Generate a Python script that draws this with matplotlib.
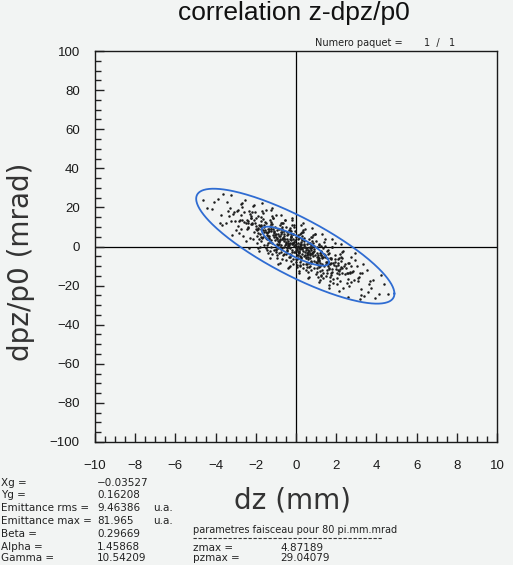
import numpy as np
import matplotlib
matplotlib.use("Agg")
import matplotlib.pyplot as plt
from matplotlib.ticker import MultipleLocator

W, H = 513, 565

# beam parameters printed under the plot
xg, yg = -0.03527, 0.16208
emit_rms, emit_max = 9.46386, 81.965
beta, alpha, gamma = 0.29669, 1.45868, 10.54209
zmax, pzmax = 4.87189, 29.04079

# particles (dz in mm, dpz/p0 in mrad)
dz_pts = [
    -0.22, 0.07, 0.18, -0.11, 0.02, 0.24, -0.17, 0.13, -0.04, 0.21, -0.25, 0.09, -0.08, 0.16, -0.19, 0.04, 0.11, -0.14, 0.23, -0.01,
    -0.19, 0.10, 0.21, -0.08, 0.05, 0.27, -0.14, 0.16, -0.01, 0.24, -0.22, 0.12, -0.05, 0.19, -0.16, 0.07, 0.14, -0.11, 0.26, 0.02,
    -0.24, 0.05, 0.16, -0.13, 0.00, 0.22, -0.19, 0.11, -0.06, 0.19, -0.27, 0.07, -0.10, 0.14, -0.21, 0.02, 0.09, -0.16, 0.21, -0.03,
    -0.21, 0.08, 0.19, -0.10, 0.03, 0.25, -0.16, 0.14,
    0.28, 0.57, 0.68, 0.39, 0.52, 0.74, 0.33, 0.63, 0.46, 0.71, 0.25, 0.59, 0.42, 0.66, 0.31, 0.54, 0.61, 0.36, 0.73, 0.49,
    0.31, 0.60, 0.71, 0.42, 0.55, 0.77, 0.36, 0.66, 0.49, 0.74, 0.28, 0.62, 0.45, 0.69, 0.34, 0.57, 0.64, 0.39, 0.76, 0.52,
    0.26, 0.55, 0.66, 0.37, 0.50, 0.72, 0.31, 0.61, 0.44, 0.69, 0.23, 0.57, 0.40, 0.64, 0.29, 0.52, 0.59, 0.34, 0.71, 0.47,
    0.29, 0.58, 0.69, 0.40,
    -0.72, -0.43, -0.32, -0.61, -0.48, -0.26, -0.67, -0.37, -0.54, -0.29, -0.75, -0.41, -0.58, -0.34, -0.69, -0.46, -0.39, -0.64, -0.27, -0.51,
    -0.69, -0.40, -0.29, -0.58, -0.45, -0.23, -0.64, -0.34, -0.51, -0.26, -0.72, -0.38, -0.55, -0.31, -0.66, -0.43, -0.36, -0.61, -0.24, -0.48,
    -0.74, -0.45, -0.34, -0.63, -0.50, -0.28, -0.69, -0.39, -0.56, -0.31, -0.77, -0.43, -0.60, -0.36, -0.71, -0.48, -0.41, -0.66, -0.29, -0.53,
    -0.71, -0.42, -0.31, -0.60,
    0.78, 1.07, 1.18, 0.89, 1.02, 1.24, 0.83, 1.13, 0.96, 1.21, 0.75, 1.09, 0.92, 1.16, 0.81, 1.04, 1.11, 0.86, 1.23, 0.99,
    0.81, 1.10, 1.21, 0.92, 1.05, 1.27, 0.86, 1.16, 0.99, 1.24, 0.78, 1.12, 0.95, 1.19, 0.84, 1.07, 1.14, 0.89, 1.26, 1.02,
    0.76, 1.05, 1.16, 0.87, 1.00, 1.22, 0.81, 1.11, 0.94, 1.19, 0.73, 1.07, 0.90, 1.14, 0.79, 1.02,
    -1.22, -0.93, -0.82, -1.11, -0.98, -0.76, -1.17, -0.87, -1.04, -0.79, -1.25, -0.91, -1.08, -0.84, -1.19, -0.96, -0.89, -1.14, -0.77, -1.01,
    -1.19, -0.90, -0.79, -1.08, -0.95, -0.73, -1.14, -0.84, -1.01, -0.76, -1.22, -0.88, -1.05, -0.81, -1.16, -0.93, -0.86, -1.11, -0.74, -0.98,
    -1.24, -0.95, -0.84, -1.13, -1.00, -0.78, -1.19, -0.89, -1.06, -0.81, -1.27, -0.93, -1.10, -0.86, -1.21, -0.98,
    1.28, 1.57, 1.68, 1.39, 1.52, 1.74, 1.33, 1.63, 1.46, 1.71, 1.25, 1.59, 1.42, 1.66, 1.31, 1.54, 1.61, 1.36, 1.73, 1.49,
    1.31, 1.60, 1.71, 1.42, 1.55, 1.77, 1.36, 1.66, 1.49, 1.74, 1.28, 1.62, 1.45, 1.69, 1.34, 1.57, 1.64, 1.39, 1.76, 1.52,
    1.26, 1.55, 1.66, 1.37, 1.50,
    -1.72, -1.43, -1.32, -1.61, -1.48, -1.26, -1.67, -1.37, -1.54, -1.29, -1.75, -1.41, -1.58, -1.34, -1.69, -1.46, -1.39, -1.64, -1.27, -1.51,
    -1.69, -1.40, -1.29, -1.58, -1.45, -1.23, -1.64, -1.34, -1.51, -1.26, -1.72, -1.38, -1.55, -1.31, -1.66, -1.43, -1.36, -1.61, -1.24, -1.48,
    -1.74, -1.45, -1.34, -1.63, -1.50,
    1.78, 2.07, 2.18, 1.89, 2.02, 2.24, 1.83, 2.13, 1.96, 2.21, 1.75, 2.09, 1.92, 2.16, 1.81, 2.04, 2.11, 1.86, 2.23, 1.99,
    1.81, 2.10, 2.21, 1.92, 2.05, 2.27, 1.86, 2.16, 1.99, 2.24, 1.78, 2.12, 1.95,
    -2.22, -1.93, -1.82, -2.11, -1.98, -1.76, -2.17, -1.87, -2.04, -1.79, -2.25, -1.91, -2.08, -1.84, -2.19, -1.96, -1.89, -2.14, -1.77, -2.01,
    -2.19, -1.90, -1.79, -2.08, -1.95, -1.73, -2.14, -1.84, -2.01, -1.76, -2.22, -1.88, -2.05,
    2.28, 2.57, 2.68, 2.39, 2.52, 2.74, 2.33, 2.63, 2.46, 2.71, 2.25, 2.59, 2.42, 2.66, 2.31, 2.54, 2.61, 2.36, 2.73, 2.49, 2.31, 2.60,
    -2.72, -2.43, -2.32, -2.61, -2.48, -2.26, -2.67, -2.37, -2.54, -2.29, -2.75, -2.41, -2.58, -2.34, -2.69, -2.46, -2.39, -2.64, -2.27, -2.51, -2.69, -2.40,
    2.78, 3.07, 3.18, 2.89, 3.02, 3.24, 2.83, 3.13, 2.96, 3.21, 2.75, 3.09, 2.92, 3.16,
    -3.22, -2.93, -2.82, -3.11, -2.98, -2.76, -3.17, -2.87, -3.04, -2.79, -3.25, -2.91, -3.08, -2.84,
    3.28, 3.57, 3.68, 3.39, 3.52, 3.74, 3.33, 3.63,
    -3.72, -3.43, -3.32, -3.61, -3.48, -3.26, -3.67, -3.37,
    3.82, 4.11, 4.23, 3.94,
    -4.18, -3.89, -3.78, -4.07,
    4.38, 4.56,
    -4.41, -4.62,
]
dp_pts = [
    1.5, -1.6, 1.4, -2.6, 4.9, -7.0, 2.0, -1.0, 7.8, -10.0, 4.7, -2.7, 11.2, -12.3, 1.9, -4.6, 5.7, -6.2, 0.7, -0.7,
    -1.6, 3.6, -1.5, 2.1, -6.5, 7.1, -8.8, 4.1, -1.7, -0.9, 13.7, -4.1, 3.2, -8.0, 6.5, -1.1, -13.7, 9.8, -6.1, 1.4,
    7.8, -0.5, -3.4, 3.8, -7.9, 0.5, 10.8, -5.8, 0.8, -4.9, 5.6, -10.7, 2.4, -2.2, 14.6, -6.3, 0.3, 6.6, -9.6, -2.9,
    -3.0, 1.6, 6.2, 0.1, -9.4, 2.4, 1.2, -2.7,
    -4.0, 1.2, -4.0, -0.3, -9.0, 4.7, -11.2, 1.7, -4.2, -3.4, 11.2, -6.5, 0.8, -10.4, 4.0, -3.5, -16.1, 7.4, -8.6, -1.0,
    5.4, -3.0, -5.9, 1.4, -10.3, -2.0, 8.4, -8.2, -1.6, -7.4, 3.2, -13.2, -0.1, -4.6, 12.2, -8.8, -2.2, 4.2, -12.0, -5.4,
    -5.5, -0.8, 3.8, -2.4, -11.8, 0.0, -1.2, -5.2, 9.0, -10.2, 1.4, -4.6, 2.8, -15.6, 7.2, -6.0, -2.0, -9.2, 1.8, -2.6,
    -1.0, -4.0, -1.0, -5.0,
    -0.6, 4.0, 8.6, 2.6, -7.0, 4.8, 3.6, -0.2, 13.8, -5.2, 6.4, 0.4, 7.8, -10.6, 12.2, -1.0, 3.0, -4.4, 6.6, 2.2,
    4.0, 0.8, 3.8, -0.2, 7.4, -4.6, 4.4, 1.4, 10.2, -7.6, 7.2, -0.2, 13.6, -9.8, 4.4, -2.2, 8.2, -3.8, 3.2, 1.8,
    0.8, 6.0, 1.0, 4.6, -4.0, 9.6, -6.4, 6.6, 0.8, 1.6, 16.2, -1.6, 5.6, -5.6, 9.0, 1.4, -11.2, 12.2, -3.6, 3.8,
    10.2, 2.0, -1.0, 6.2,
    2.9, -5.4, -8.3, -1.1, -12.8, -4.4, 5.9, -10.7, -4.1, -9.8, 0.7, -15.6, -2.5, -7.1, 9.7, -11.2, -4.6, 1.7, -14.5, -7.8,
    -3.4, -6.5, -3.5, -7.5, 0.0, -11.9, -2.9, -5.9, 2.9, -14.9, -0.2, -7.6, 6.3, -17.2, -3.0, -9.5, 0.8, -11.1, -4.2, -5.6,
    -7.9, -3.3, 1.3, -4.8, -14.3, -2.5, -3.7, -7.6, 6.5, -12.6, -1.0, -7.0, 0.4, -18.0, 4.8, -8.4,
    3.3, 8.5, 3.4, 7.0, -1.6, 12.0, -3.9, 9.0, 3.2, 4.0, 18.6, 0.8, 8.1, -3.1, 11.4, 3.8, -8.8, 14.7, -1.2, 6.3,
    1.9, 6.5, 11.1, 5.0, -4.5, 7.3, 6.1, 2.2, 16.3, -2.8, 8.8, 2.8, 10.2, -8.2, 14.6, 1.4, 5.4, -1.9, 9.1, 4.7,
    12.7, 4.4, 1.5, 8.7, -3.0, 5.4, 15.7, -0.9, 5.7, 0.0, 10.5, -5.8, 7.3, 2.7, 19.5, -1.4,
    -5.8, -9.0, -6.0, -10.0, -2.4, -14.4, -5.4, -8.4, 0.4, -17.4, -2.6, -10.0, 3.8, -19.6, -5.4, -12.0, -1.6, -13.6, -6.6, -8.0,
    -9.0, -3.8, -8.8, -5.2, -13.8, -0.2, -16.2, -3.2, -9.0, -8.2, 6.4, -11.4, -4.2, -15.4, -0.8, -8.4, -21.0, 2.4, -13.4, -6.0,
    0.4, -7.8, -10.8, -3.6, -15.2,
    15.2, 6.8, 4.0, 11.2, -0.6, 7.8, 18.2, 1.6, 8.2, 2.4, 13.0, -3.4, 9.8, 5.2, 22.0, 1.0, 7.6, 14.0, -2.2, 4.4,
    4.4, 9.0, 13.6, 7.4, -2.0, 9.8, 8.6, 4.6, 18.8, -0.4, 11.2, 5.2, 12.6, -5.8, 17.0, 3.8, 7.8, 0.6, 11.6, 7.2,
    8.8, 5.8, 8.8, 4.8, 12.2,
    -12.8, -8.2, -3.6, -9.7, -19.2, -7.4, -8.6, -12.5, 1.6, -17.5, -5.9, -11.9, -4.5, -22.9, -0.1, -13.3, -9.3, -16.6, -5.6, -10.0,
    -11.4, -6.2, -11.3, -7.7, -16.3, -2.7, -18.6, -5.7, -11.5, -10.7, 3.9, -13.9, -6.6,
    11.3, 8.2, 11.2, 7.2, 14.7, 2.8, 11.8, 8.8, 17.6, -0.2, 14.5, 7.1, 21.0, -2.5, 11.7, 5.2, 15.5, 3.6, 10.5, 9.1,
    17.6, 9.3, 6.4, 13.6, 1.9, 10.3, 20.6, 4.0, 10.6, 4.9, 15.4, -0.9, 12.2,
    -13.8, -8.6, -13.8, -10.2, -18.8, -5.2, -21.0, -8.2, -14.0, -13.2, 1.4, -16.4, -9.0, -20.2, -5.8, -13.4, -26.0, -2.4, -18.4, -10.8, -10.8, -13.8,
    9.2, 13.8, 18.4, 12.4, 2.8, 14.6, 13.4, 9.6, 23.6, 4.6, 16.2, 10.2, 17.6, -0.8, 22.0, 8.8, 12.8, 5.4, 16.4, 12.0, 20.0, 11.8,
    -13.2, -16.3, -13.3, -17.3, -9.8, -21.7, -12.7, -15.7, -6.9, -24.7, -10.0, -17.4, -3.5, -27.0,
    13.1, 18.3, 13.2, 16.8, 8.2, 21.8, 5.9, 18.8, 13.0, 13.8, 26.2, 10.6, 17.9, 6.7,
    -13.8, -23.3, -17.6, -25.5, -12.2, -21.4, -8.7, -19.0,
    16.2, 23.0, 15.8, 27.0, 12.2, 19.6, 10.9, 18.1,
    -16.9, -24.5, -14.7, -26.5,
    19.0, 24.3, 12.2, 22.8,
    -19.0, -24.1,
    19.5, 23.8,
]

bg = "#f2f4f3"
blue = "#2f6cd2"

fig = plt.figure(figsize=(W / 100, H / 100), dpi=100, facecolor=bg)
ax = fig.add_axes([95 / W, 1 - 442 / H, 402 / W, 391 / H], facecolor=bg)

ax.axvline(0, color="black", lw=0.9, zorder=1)
ax.axhline(0, color="black", lw=0.9, zorder=1)
ax.plot(dz_pts, dp_pts, ls="none", marker="o", ms=1.8, mew=0,
        color="#1c1c1c", zorder=2)

# rms and max emittance ellipses from the Twiss parameters
t = np.linspace(0, 2 * np.pi, 300)
for eps in (emit_rms, emit_max):
    ez = xg + np.sqrt(eps * beta) * np.cos(t)
    ep = yg - np.sqrt(eps / beta) * (alpha * np.cos(t) + np.sin(t))
    ax.plot(ez, ep, color=blue, lw=1.3, zorder=3)

ax.set_xlim(-10, 10)
ax.set_ylim(-100, 100)
ax.xaxis.set_major_locator(MultipleLocator(2))
ax.xaxis.set_minor_locator(MultipleLocator(0.5))
ax.yaxis.set_major_locator(MultipleLocator(20))
ax.yaxis.set_minor_locator(MultipleLocator(5))
ax.tick_params(which="both", direction="in", top=False, right=False,
               color="#222222", width=1.0)
ax.tick_params(which="major", length=6.5)
ax.tick_params(which="minor", length=4)
ax.tick_params(axis="x", pad=13)
ax.tick_params(axis="y", pad=11)
for lab in ax.get_xticklabels() + ax.get_yticklabels():
    lab.set_fontfamily("Liberation Sans")
    lab.set_fontsize(9.5)
    lab.set_color("#1a1a1a")
for s in ax.spines.values():
    s.set_linewidth(1.0)
    s.set_color("#1a1a1a")


def ftext(x, y, s, **kw):
    fig.text(x / W, 1 - y / H, s, **kw)


ftext(294, 20, "correlation z-dpz/p0", ha="center", va="baseline",
      fontsize=19, family="Liberation Sans", color="#111111")
ftext(315, 43, "Numero paquet =", ha="left", va="center", fontsize=7, color="#222222")
ftext(424, 43, "1  /   1", ha="left", va="center", fontsize=7, color="#222222")

ftext(292, 500, "dz (mm)", ha="center", va="center", fontsize=20, color="#333333")
ftext(21, 262, "dpz/p0 (mrad)", ha="center", va="center", rotation=90,
      fontsize=20, color="#333333")

rows = [483, 495.5, 508, 521, 534, 547, 558]
names = ["Xg =", "Yg =", "Emittance rms =", "Emittance max =",
         "Beta =", "Alpha =", "Gamma ="]
vals = ["%.5f" % xg, "%.5f" % yg, "%.5f" % emit_rms, "%.3f" % emit_max,
        "%.5f" % beta, "%.5f" % alpha, "%.5f" % gamma]
small = dict(va="center", fontsize=7.5, color="#222222")
for y, n, v in zip(rows, names, vals):
    ftext(1, y, n, ha="left", **small)
    ftext(97, y, v.replace("-", "\u2212"), ha="left", **small)
ftext(153, rows[2], "u.a.", ha="left", **small)
ftext(153, rows[3], "u.a.", ha="left", **small)

ftext(193, 530, "parametres faisceau pour 80 pi.mm.mrad", ha="left",
      va="center", fontsize=7, color="#222222")
fig.add_artist(plt.Line2D([193 / W, 383 / W], [1 - 538 / H, 1 - 538 / H],
                          transform=fig.transFigure, color="#333333",
                          lw=0.8, ls=(0, (3, 1.5))))
ftext(193, 548, "zmax =", ha="left", **small)
ftext(193, 558, "pzmax =", ha="left", **small)
ftext(280, 548, "%.5f" % zmax, ha="left", **small)
ftext(280, 558, "%.5f" % pzmax, ha="left", **small)

fig.savefig("out.png", dpi=100, facecolor=bg)
